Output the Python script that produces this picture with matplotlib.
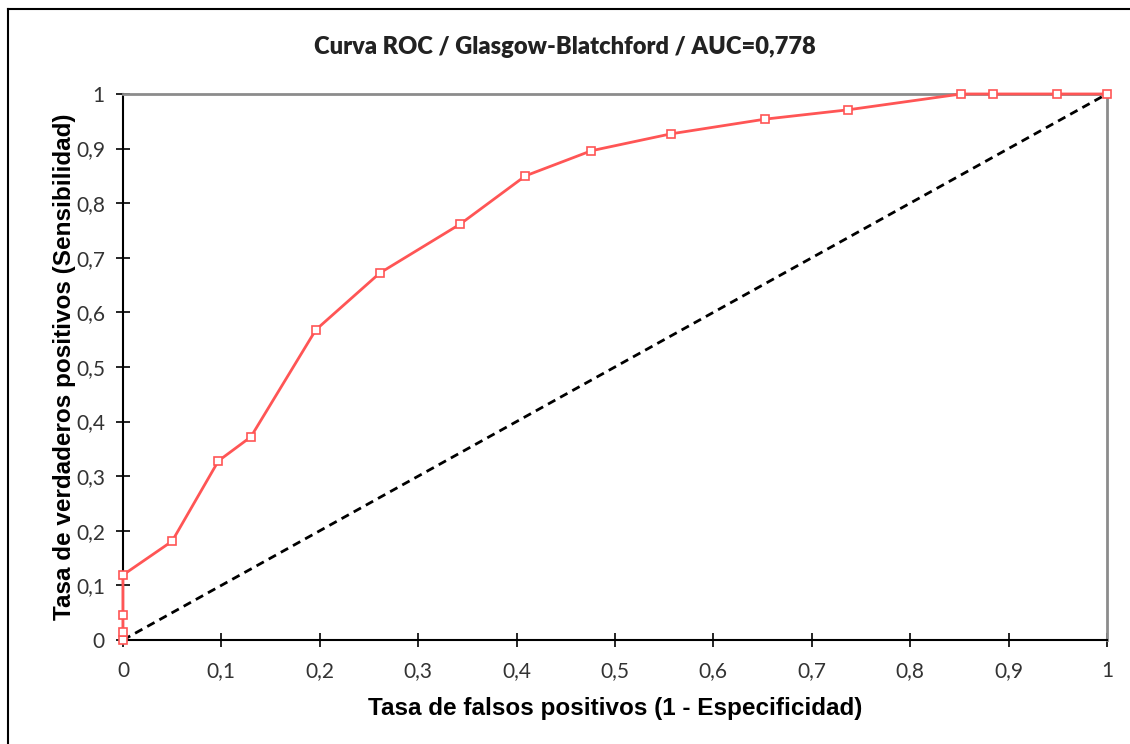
import numpy as np
import matplotlib.pyplot as plt
from matplotlib.lines import Line2D

# puntos de la curva ROC
fpr = [0, 0, 0, 0, 0.050, 0.097, 0.130, 0.196, 0.261, 0.343, 0.409, 0.476,
       0.557, 0.653, 0.737, 0.852, 0.884, 0.949, 1]
tpr = [0, 0.015, 0.046, 0.119, 0.181, 0.328, 0.372, 0.568, 0.672, 0.762,
       0.850, 0.896, 0.927, 0.954, 0.971, 1, 1, 1, 1]
diag = [0, 1]
ticks = [0, 0.1, 0.2, 0.3, 0.4, 0.5, 0.6, 0.7, 0.8, 0.9, 1]
tick_labels = ['0', '0,1', '0,2', '0,3', '0,4', '0,5', '0,6', '0,7', '0,8', '0,9', '1']

fig = plt.figure(figsize=(11.3, 7.44), dpi=100)
ax = fig.add_axes([0.1088, 0.1398, 0.8708, 0.7339])

ax.plot(diag, diag, color='black', ls=(0, (3, 2)), lw=2, zorder=2)
ax.plot(fpr, tpr, color='#ff5555', lw=2, marker='s', ms=5.5,
        mfc='white', mec='#ff5555', mew=1.2, zorder=3, clip_on=False)

ax.set_xlim(0, 1)
ax.set_ylim(0, 1)
ax.set_xticks(ticks)
ax.set_yticks(ticks)
ax.set_xticklabels(tick_labels, fontsize=15, family='Lato', color='#333333')
ax.set_yticklabels(tick_labels, fontsize=15, family='Lato', color='#333333')
ax.tick_params(direction='inout', length=10, width=1.2, color='black')
ax.tick_params(axis='x', pad=10)
ax.tick_params(axis='y', pad=8)

for s in ['left', 'bottom']:
    ax.spines[s].set_color('black')
    ax.spines[s].set_linewidth(1.5)
for s in ['top', 'right']:
    ax.spines[s].set_color('#8c8c8c')
    ax.spines[s].set_linewidth(2)

ax.set_xlabel('Tasa de falsos positivos (1 - Especificidad)', fontsize=17.5,
              fontweight='bold', family='Liberation Sans', labelpad=12)
ax.set_ylabel('Tasa de verdaderos positivos (Sensibilidad)', fontsize=17.5,
              fontweight='bold', family='Liberation Sans', labelpad=0)
fig.text(0.5, 0.937, 'Curva ROC / Glasgow-Blatchford / AUC=0,778', ha='center',
         va='center', fontsize=17, fontweight='heavy', family='Lato', color='#222222')

# marco (solo izquierda y arriba visibles en la figura original)
fig.add_artist(Line2D([0.0075, 0.0075], [0, 0.988], color='black', lw=1.5))
fig.add_artist(Line2D([0.0075, 1], [0.988, 0.988], color='black', lw=1.5))

plt.savefig('out.png', dpi=100)
